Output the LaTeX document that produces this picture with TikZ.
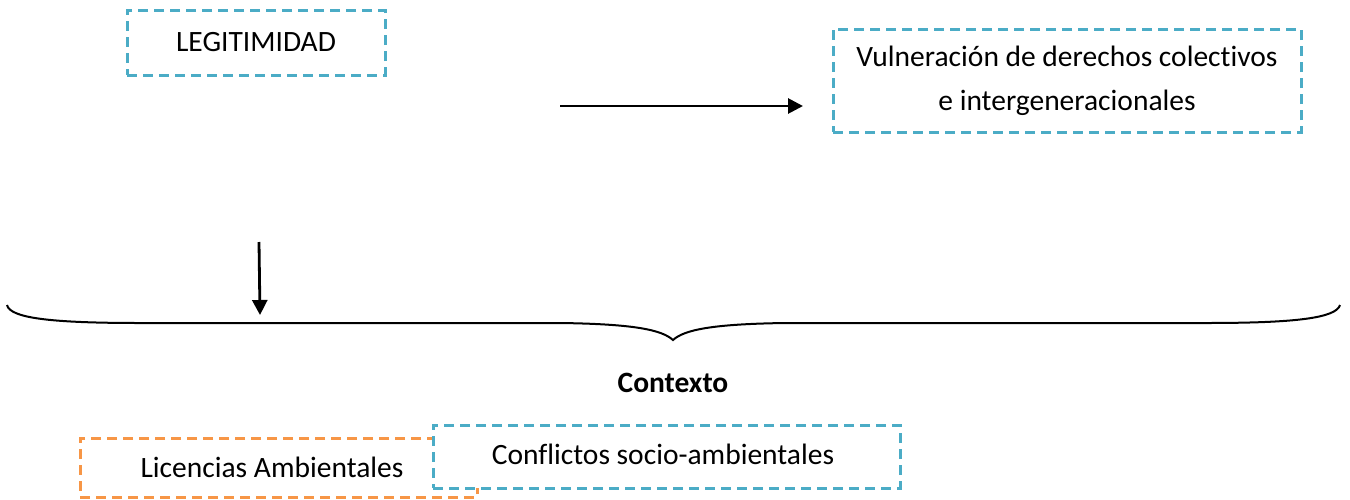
\documentclass[tikz,border=0pt]{standalone}
\usepackage{fontspec}
\setmainfont{Carlito}[Ligatures=NoCommon,Contextuals=NoAlternate]
\usetikzlibrary{arrows.meta}
\definecolor{cyanbox}{HTML}{4BACC6}
\definecolor{orangebox}{HTML}{F79646}
\begin{document}
\begin{tikzpicture}[x=1pt,y=-1pt,
  every node/.style={font=\fontsize{29.5}{44}\selectfont, inner sep=0pt},
  cbox/.style={draw=cyanbox, line width=3pt, dash pattern=on 10pt off 6pt, fill=white, rectangle},
  obox/.style={draw=orangebox, line width=3pt, dash pattern=on 10pt off 6pt, rectangle},
  arr/.style={line width=2.8pt, -{Triangle[length=15pt,width=15pt]}},
  bracepath/.style={line width=2pt}]
\useasboundingbox (0,0) rectangle (1350,499);
\node[cbox, minimum width=258pt, minimum height=65pt] (leg) at (256,42.5) {LEGITIMIDAD};
\node[cbox, minimum width=468pt, minimum height=103pt, align=center] (vul) at (1067,80.5) {Vulneración de derechos colectivos\\e intergeneracionales};
\coordinate (a1s) at (560,106);
\coordinate (a1e) at (803,106);
\draw[arr] (a1s) -- (a1e);
\coordinate (a2s) at (259,242);
\coordinate (a2e) at (260,315);
\draw[arr] (a2s) -- (a2e);
\coordinate (bl) at (7,305);
\coordinate (bm) at (673,340);
\coordinate (br) at (1340,305);
\draw[bracepath] (bl) .. controls (10,318) and (50,323) .. (140,323) -- (560,323)
  .. controls (635,324) and (662,330) .. (bm)
  .. controls (684,330) and (711,324) .. (786,323) -- (1206,323)
  .. controls (1296,323) and (1336,318) .. (br);
\node[font=\fontsize{29.5}{44}\selectfont\bfseries] (ctx) at (673,383) {Contexto};
\node[obox, minimum width=397pt, minimum height=59pt] (lic) at (278.5,467.5) {};
\node (lictext) at (272,467) {Licencias Ambientales};
\node[cbox, minimum width=467pt, minimum height=63pt] (con) at (666.5,456.5) {};
\node (context) at (663,454) {Conflictos socio-ambientales};
\end{tikzpicture}
\end{document}
